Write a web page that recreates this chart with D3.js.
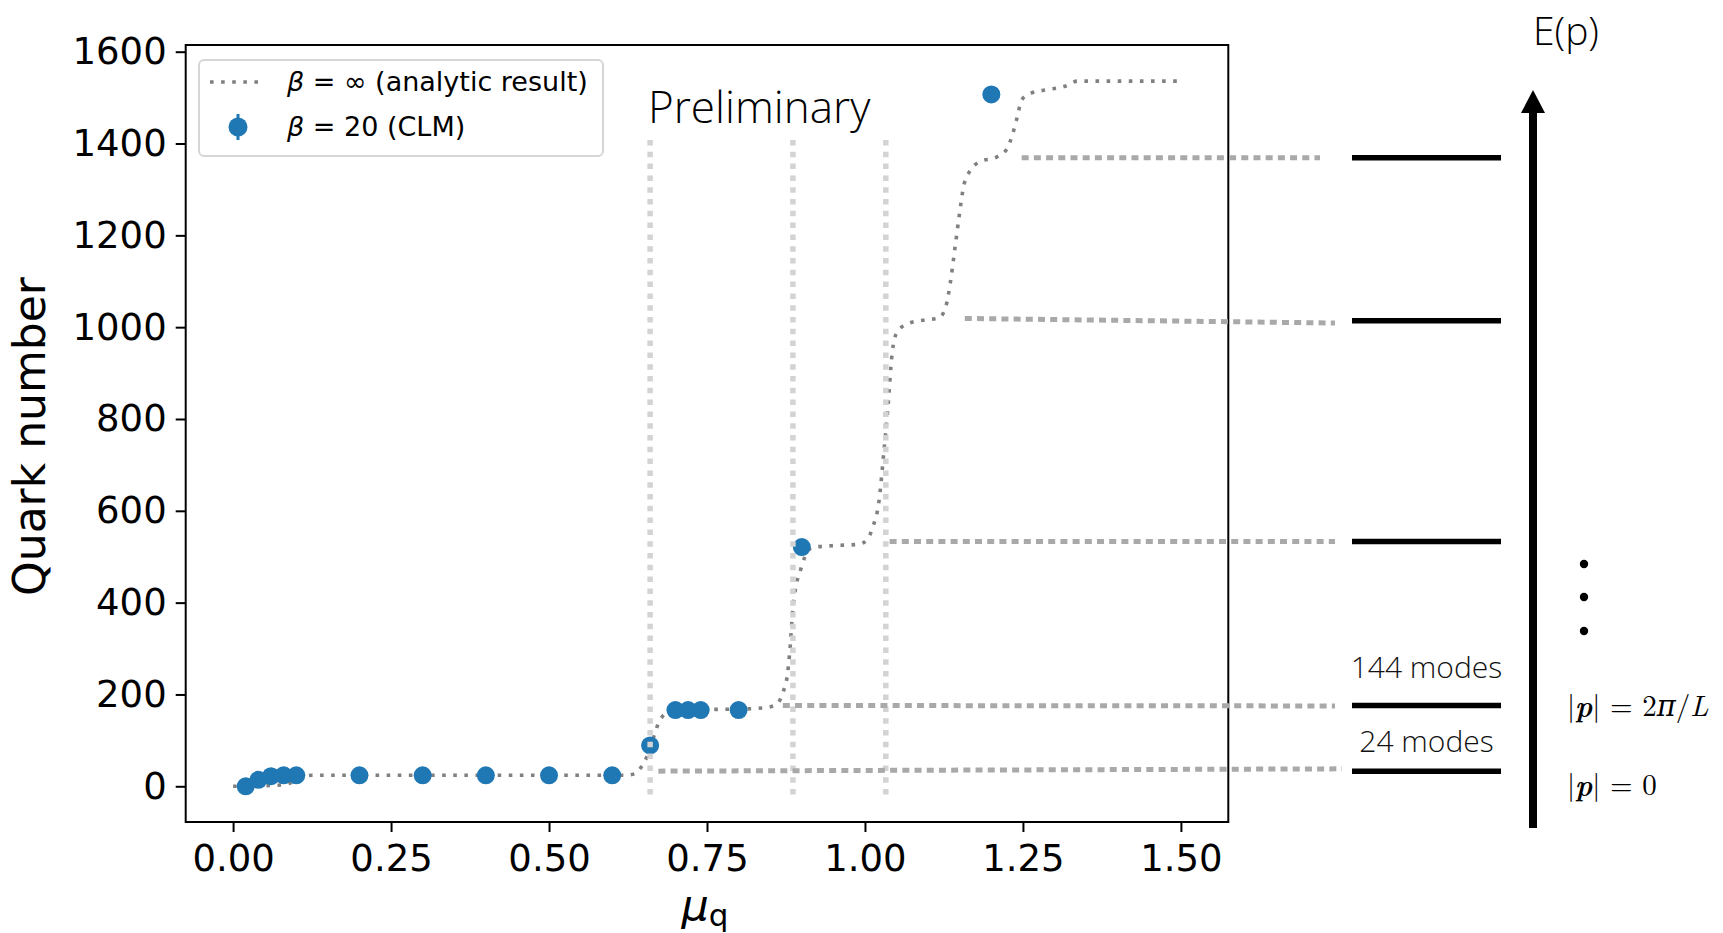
<!DOCTYPE html>
<html>
<head>
<meta charset="utf-8">
<script src="https://cdn.jsdelivr.net/npm/d3@7"></script>
<style>
  html, body { margin: 0; padding: 0; background: #ffffff; }
  svg { display: block; }
</style>
</head>
<body>
<svg id="chart" width="1723" height="933"></svg>
<script>
// ---- Lattice data: complex Langevin (CLM) points at beta = 20 ----
const muPoints    = [0.02, 0.04, 0.06, 0.08, 0.10, 0.20, 0.30, 0.40, 0.50, 0.60, 0.66, 0.70, 0.72, 0.74, 0.80, 0.90, 1.20];
const quarkPoints = [0, 14, 22, 24, 24, 24, 24, 24, 24, 24, 89, 166, 166, 166, 166, 521, 1507];
const quarkErrors = [1, 2, 2, 2, 2, 2, 2, 2, 2, 2, 6, 3, 3, 3, 3, 4, 5];

// ---- Analytic beta = infinity curve, sampled along the trace ----
const muCurve    = [0, 0.04, 0.08, 0.095, 0.11, 0.125, 0.62, 0.635, 0.645, 0.655, 0.665, 0.675, 0.69, 0.71, 0.80, 0.84, 0.86, 0.87, 0.877, 0.881, 0.886, 0.891, 0.898, 0.905, 0.916, 0.948, 0.99, 1.003, 1.013, 1.022, 1.03, 1.036, 1.043, 1.05, 1.068, 1.096, 1.117, 1.128, 1.135, 1.142, 1.149, 1.156, 1.167, 1.181, 1.209, 1.2235, 1.234, 1.241, 1.248, 1.262, 1.287, 1.315, 1.3365, 1.50];
const quarkCurve = [0, 1, 3, 10, 20, 24, 24, 27, 40, 65, 105, 143, 162, 167, 168, 171, 178, 204, 241, 293, 389, 437, 471, 500, 520, 524, 527, 537, 567, 619, 730, 819, 943, 987, 1008, 1016, 1020, 1045, 1096, 1168, 1241, 1306, 1342, 1360, 1371, 1386, 1422, 1458, 1495, 1509, 1517, 1524, 1536, 1536];

// ---- Axis ticks ----
const xTicks = [0, 0.25, 0.5, 0.75, 1.0, 1.25, 1.5];
const yTicks = [0, 200, 400, 600, 800, 1000, 1200, 1400, 1600];

// ---- Energy level diagram (quark number of each filled shell) ----
const levelValues   = [33, 176, 533, 1014, 1369];
const levelLabels   = ["24 modes", "144 modes"];
const momentumLabel = ["|p| = 0", "|p| = 2π/L"];

// Guide lines at the step positions
const guideMu = [0.66, 0.886, 1.033];

// Connectors from each plateau to its level
const connectorStartMu = [0.673, 0.870, 1.039, 1.158, 1.248];
const connectorStartN  = [33, 176, 533, 1019, 1369];
const connectorEndN    = [38, 175, 533, 1009, 1369];

// ---- Layout ----
const plot = { left: 185.7, right: 1228.3, top: 45, bottom: 822 };
const diagram = { lineX0: 1352, lineX1: 1501, arrowX: 1533, arrowTop: 90, arrowBottom: 828,
                  connectorEndX: [1342, 1335, 1335, 1335, 1320], textX: 1567, dotX: 1584,
                  labelOffset: [-19, -27] };

const blue = "#1f77b4";
const svg = d3.select("#chart");

const x = d3.scaleLinear().domain([-0.075, 1.575]).range([plot.left, plot.right]);
const y = d3.scaleLinear().domain([-77.8, 1614.6]).range([plot.bottom, plot.top]);

// ---- Axes ----
const xAxis = d3.axisBottom(x).tickValues(xTicks).tickFormat(d3.format(".2f"))
  .tickSizeInner(10).tickSizeOuter(0).tickPadding(13);
const yAxis = d3.axisLeft(y).tickValues(yTicks).tickFormat(d3.format("d"))
  .tickSizeInner(10).tickSizeOuter(0).tickPadding(9);

const gx = svg.append("g").attr("transform", `translate(0,${plot.bottom})`).call(xAxis);
const gy = svg.append("g").attr("transform", `translate(${plot.left},0)`).call(yAxis);
[gx, gy].forEach(g => {
  g.select(".domain").remove();
  g.selectAll(".tick line").attr("stroke", "#000").attr("stroke-width", 2);
  g.selectAll(".tick text").attr("fill", "#000")
    .style("font-family", "'DejaVu Sans', sans-serif").style("font-size", "37px");
});

// Frame
svg.append("rect")
  .attr("x", plot.left).attr("y", plot.top)
  .attr("width", plot.right - plot.left).attr("height", plot.bottom - plot.top)
  .attr("fill", "none").attr("stroke", "#000").attr("stroke-width", 2);

// Axis titles
svg.append("text")
  .attr("transform", `translate(45,${(plot.top + plot.bottom) / 2 + 3}) rotate(-90)`)
  .attr("text-anchor", "middle")
  .style("font-family", "'DejaVu Sans', sans-serif").style("font-size", "44px")
  .text("Quark number");

const xl = svg.append("text")
  .attr("x", (plot.left + plot.right) / 2 - 2).attr("y", 920)
  .attr("text-anchor", "middle")
  .style("font-family", "'DejaVu Sans', sans-serif").style("font-size", "43px");
xl.append("tspan").style("font-style", "italic").text("μ");
xl.append("tspan").attr("dy", 6).style("font-size", "31px").text("q");

// ---- Analytic curve ----
const curve = muCurve.map((m, i) => ({ mu: m, n: quarkCurve[i] }));
svg.append("path")
  .datum(curve)
  .attr("fill", "none")
  .attr("stroke", "#808080")
  .attr("stroke-width", 3.6)
  .attr("stroke-dasharray", "3.6 7.5")
  .attr("d", d3.line().x(d => x(d.mu)).y(d => y(d.n)).curve(d3.curveMonotoneX));

// ---- CLM points with error bars ----
const pts = muPoints.map((m, i) => ({ mu: m, n: quarkPoints[i], e: quarkErrors[i] }));
svg.append("g").selectAll("line").data(pts).join("line")
  .attr("x1", d => x(d.mu)).attr("x2", d => x(d.mu))
  .attr("y1", d => y(d.n - d.e)).attr("y2", d => y(d.n + d.e))
  .attr("stroke", blue).attr("stroke-width", 3);
svg.append("g").selectAll("circle").data(pts).join("circle")
  .attr("cx", d => x(d.mu)).attr("cy", d => y(d.n)).attr("r", 9)
  .attr("fill", blue);

// ---- Legend ----
const lg = svg.append("g");
lg.append("rect").attr("x", 199).attr("y", 60).attr("width", 404).attr("height", 96)
  .attr("rx", 5).attr("fill", "#fff").attr("fill-opacity", 0.8)
  .attr("stroke", "#d6d6d6").attr("stroke-width", 2);
lg.append("line").attr("x1", 210).attr("x2", 265).attr("y1", 82).attr("y2", 82)
  .attr("stroke", "#808080").attr("stroke-width", 3.6).attr("stroke-dasharray", "3.6 7.5");
lg.append("line").attr("x1", 238).attr("x2", 238).attr("y1", 114).attr("y2", 140)
  .attr("stroke", blue).attr("stroke-width", 3);
lg.append("circle").attr("cx", 238).attr("cy", 127).attr("r", 9.5).attr("fill", blue);
const legendRows = [
  { sym: "β", rest: " = ∞ (analytic result)", yb: 91 },
  { sym: "β", rest: " = 20 (CLM)", yb: 136 }
];
legendRows.forEach(r => {
  const t = lg.append("text").attr("x", 287).attr("y", r.yb)
    .style("font-family", "'DejaVu Sans', sans-serif").style("font-size", "27px");
  t.append("tspan").style("font-style", "italic").text(r.sym);
  t.append("tspan").text(r.rest);
});

// ---- Overlay: guides, connectors and level diagram ----
const lightFont = "'Open Sans', 'Lato', 'Noto Sans', sans-serif";

svg.append("text").attr("x", 648).attr("y", 123)
  .style("font-family", lightFont).style("font-weight", 300).style("font-size", "44px")
  .text("Preliminary");

svg.append("g").selectAll("line").data(guideMu).join("line")
  .attr("x1", d => x(d)).attr("x2", d => x(d))
  .attr("y1", 140).attr("y2", 798)
  .attr("stroke", "#d3d3d3").attr("stroke-width", 5.5).attr("stroke-dasharray", "5.5 6.3");

const conns = connectorStartMu.map((m, i) => ({ mu: m, n0: connectorStartN[i], n1: connectorEndN[i], x1: diagram.connectorEndX[i] }));
svg.append("g").selectAll("line").data(conns).join("line")
  .attr("x1", d => x(d.mu)).attr("y1", d => y(d.n0))
  .attr("x2", d => d.x1).attr("y2", d => y(d.n1))
  .attr("stroke", "#a9a9a9").attr("stroke-width", 5).attr("stroke-dasharray", "7 5.2");

svg.append("g").selectAll("line").data(levelValues).join("line")
  .attr("x1", diagram.lineX0).attr("x2", diagram.lineX1)
  .attr("y1", d => y(d)).attr("y2", d => y(d))
  .attr("stroke", "#000").attr("stroke-width", 5.5);

// Mode counts above the two lowest levels
levelLabels.forEach((lab, i) => {
  svg.append("text").attr("x", (diagram.lineX0 + diagram.lineX1) / 2)
    .attr("y", y(levelValues[i]) + diagram.labelOffset[i])
    .attr("text-anchor", "middle")
    .style("font-family", lightFont).style("font-weight", 300).style("font-size", "30px")
    .attr("fill", "#111").text(lab);
});

// Energy arrow
svg.append("rect").attr("x", diagram.arrowX - 4).attr("y", diagram.arrowTop + 20)
  .attr("width", 8).attr("height", diagram.arrowBottom - diagram.arrowTop - 20).attr("fill", "#000");
svg.append("path")
  .attr("d", `M${diagram.arrowX},${diagram.arrowTop} L${diagram.arrowX + 12},${diagram.arrowTop + 23} L${diagram.arrowX - 12},${diagram.arrowTop + 23} Z`)
  .attr("fill", "#000");
svg.append("text").attr("x", 1566).attr("y", 45).attr("text-anchor", "middle")
  .style("font-family", lightFont).style("font-weight", 300).style("font-size", "39px")
  .text("E(p)");

// Momentum labels
const mathFont = "'Latin Modern Roman', 'DejaVu Serif', 'Liberation Serif', serif";
function momentum(txt, yb) {
  const t = svg.append("text").attr("x", diagram.textX).attr("y", yb)
    .style("font-family", mathFont).style("font-size", "29px");
  t.append("tspan").text("|");
  t.append("tspan").style("font-weight", "bold").style("font-style", "italic").text("p");
  if (txt.includes("π")) {
    t.append("tspan").text("| = 2");
    t.append("tspan").style("font-style", "italic").text("π");
    t.append("tspan").text("/");
    t.append("tspan").style("font-style", "italic").text("L");
  } else {
    t.append("tspan").text(txt.slice(2));
  }
}
momentum(momentumLabel[0], 795);
momentum(momentumLabel[1], 716);

// Continuation dots
svg.append("g").selectAll("circle").data([564, 597, 631]).join("circle")
  .attr("cx", diagram.dotX).attr("cy", d => d).attr("r", 4.2).attr("fill", "#000");
</script>
</body>
</html>
